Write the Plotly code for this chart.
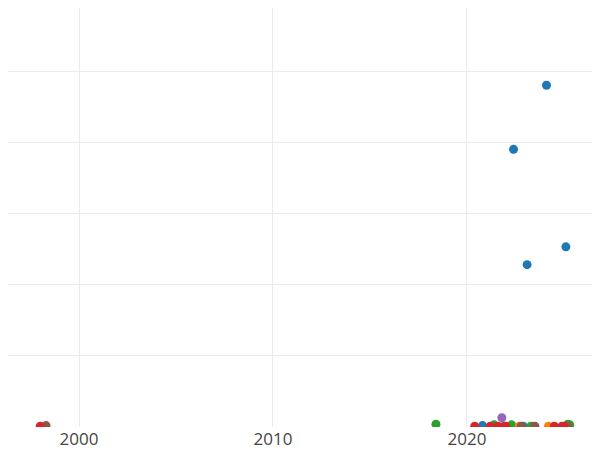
import plotly.graph_objects as go

blue_x = [2024.1, 2022.4, 2025.1, 2023.1, 2020.8, 2022.9]
blue_y = [4.8, 3.9, 2.53, 2.28, 0.02, 0.01]
green_x = [2018.4, 2021.4, 2022.3, 2023.3, 2025.2, 2025.3]
green_y = [0.04, 0.03, 0.03, 0.01, 0.04, 0.03]
red_x = [1998.0, 2020.4, 2021.2, 2021.6, 2022.0, 2024.5, 2024.9, 2025.0]
red_y = [0.01, 0.01, 0.01, 0.01, 0.01, 0.01, 0.01, 0.01]
purple_x = [2021.8]
purple_y = [0.13]
brown_x = [1998.3, 2021.9, 2022.8, 2023.5, 2025.2]
brown_y = [0.02, 0.01, 0.01, 0.01, 0.01]
orange_x = [2022.7, 2024.2]
orange_y = [0.01, 0.01]

series = [
    (blue_x, blue_y, '#1f77b4'),
    (green_x, green_y, '#2ca02c'),
    (orange_x, orange_y, '#ff7f0e'),
    (brown_x, brown_y, '#8c564b'),
    (red_x, red_y, '#d62728'),
    (purple_x, purple_y, '#9467bd'),
]

fig = go.Figure()
for xs, ys, c in series:
    fig.add_trace(go.Scatter(x=xs, y=ys, mode='markers',
                             marker=dict(color=c, size=9)))

fig.update_layout(
    width=600, height=450,
    template='plotly_white',
    showlegend=False,
    margin=dict(l=0, r=0, t=0, b=31, autoexpand=False),
    font=dict(family='Open Sans', size=17, color='#444'),
    xaxis=dict(range=[1996.34, 2027.27], tickvals=[2000, 2010, 2020],
               showgrid=True, gridcolor='#ebebeb', zeroline=False,
               automargin=False),
    yaxis=dict(range=[0, 5.885], dtick=1, showticklabels=False,
               gridcolor='#ebebeb', zeroline=False, automargin=False),
)

fig.write_html("out.html")
